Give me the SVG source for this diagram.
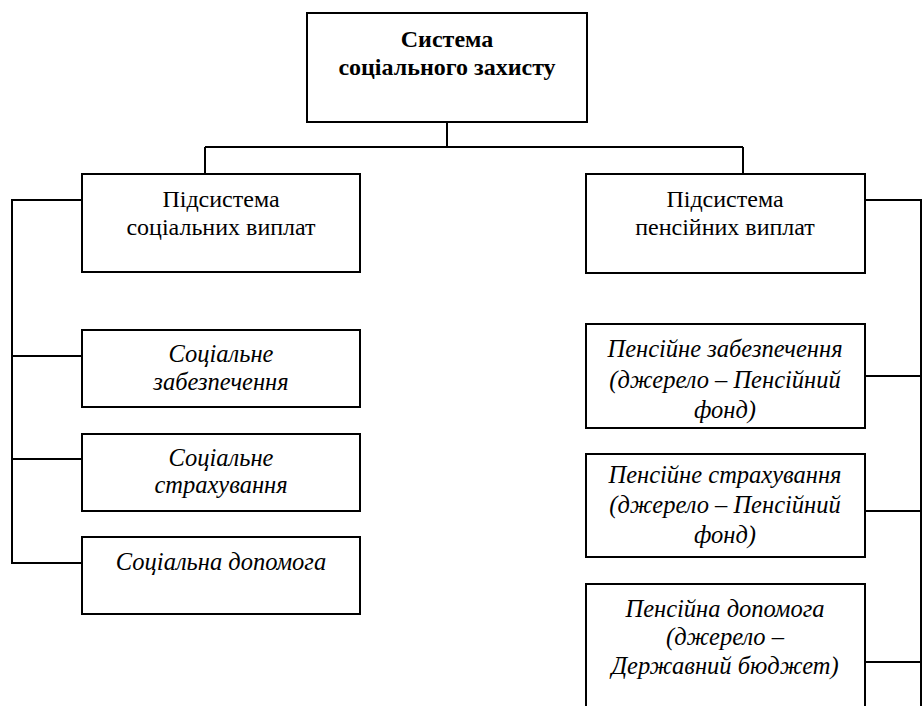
<svg xmlns="http://www.w3.org/2000/svg" width="922" height="706" viewBox="0 0 922 706">
<style>
.box{fill:#fff;stroke:#000;stroke-width:2}
.ln{fill:none;stroke:#000;stroke-width:2}
text{font-family:"Liberation Serif","Times New Roman",serif;fill:#000;text-anchor:middle}
.b{font-weight:bold;font-size:24px}
.r{font-size:24px}
.i{font-style:italic;font-size:24.5px}
</style>
<rect width="922" height="706" fill="#fff"/>
<g id="connectors">
<path class="ln" d="M447,122V147M205,147H743M205,147V174M743,147V174"/>
<path class="ln" d="M82,200H12V563H82M12,356H82M12,459H82"/>
<path class="ln" d="M865,200H921V706M865,376H921M865,511H921M865,662H921"/>
</g>
<g id="root">
<rect class="box" x="307" y="13" width="280" height="109"/>
<text class="b" x="447" y="47">Система</text>
<text class="b" x="447" y="75">соціального захисту</text>
</g>
<g id="sub-social">
<rect class="box" x="82" y="174" width="278" height="98"/>
<text class="r" x="221" y="207">Підсистема</text>
<text class="r" x="221" y="235">соціальних виплат</text>
</g>
<g id="sub-pension">
<rect class="box" x="586" y="174" width="279" height="99"/>
<text class="r" x="725" y="207">Підсистема</text>
<text class="r" x="725" y="235">пенсійних виплат</text>
</g>
<g id="social-security">
<rect class="box" x="82" y="330" width="278" height="77"/>
<text class="i" x="221" y="362">Соціальне</text>
<text class="i" x="221" y="390">забезпечення</text>
</g>
<g id="social-insurance">
<rect class="box" x="82" y="434" width="278" height="77"/>
<text class="i" x="221" y="466">Соціальне</text>
<text class="i" x="221" y="493">страхування</text>
</g>
<g id="social-assistance">
<rect class="box" x="82" y="537" width="278" height="77"/>
<text class="i" x="221" y="570">Соціальна допомога</text>
</g>
<g id="pension-provision">
<rect class="box" x="586" y="324" width="279" height="104"/>
<text class="i" x="725" y="357">Пенсійне забезпечення</text>
<text class="i" x="725" y="388">(джерело – Пенсійний</text>
<text class="i" x="725" y="418">фонд)</text>
</g>
<g id="pension-insurance">
<rect class="box" x="586" y="454" width="279" height="103"/>
<text class="i" x="725" y="483">Пенсійне страхування</text>
<text class="i" x="725" y="513">(джерело – Пенсійний</text>
<text class="i" x="725" y="543">фонд)</text>
</g>
<g id="pension-assistance">
<rect class="box" x="586" y="584" width="279" height="130"/>
<text class="i" x="725" y="617">Пенсійна допомога</text>
<text class="i" x="725" y="645">(джерело –</text>
<text class="i" x="725" y="674">Державний бюджет)</text>
</g>
</svg>
